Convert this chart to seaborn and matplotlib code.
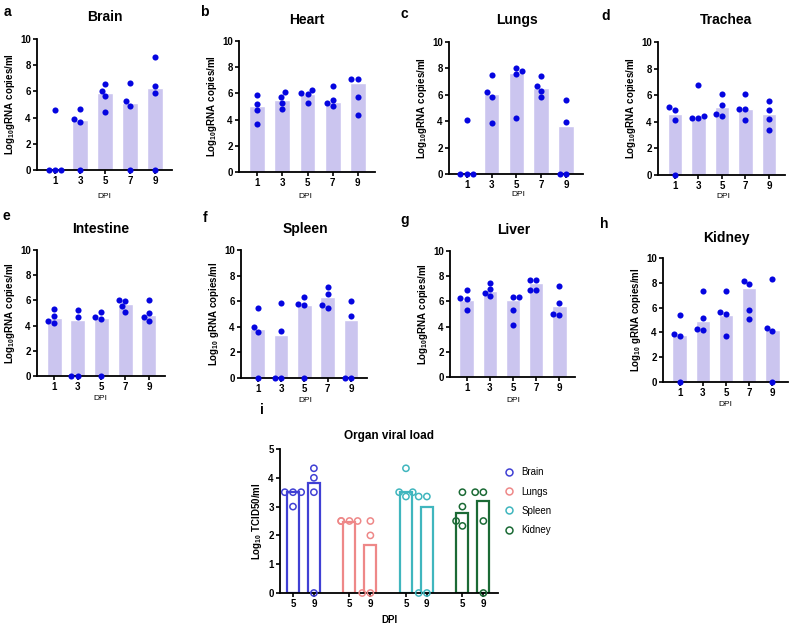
import numpy as np
import pandas as pd
import seaborn as sns
import matplotlib.pyplot as plt
from matplotlib.lines import Line2D

# ---- data ----
dpi_labels = ['1', '3', '5', '7', '9']

brain_pts = [[0, 0, 0, 4.6], [3.9, 4.65, 3.7, 0], [6.05, 6.6, 5.65, 4.4], [5.25, 6.65, 4.9, 0], [8.6, 6.45, 5.9, 0]]
brain_bar = [0, 3.83, 5.86, 5.1, 6.24]
heart_pts = [[5.85, 5.2, 4.7, 3.7], [5.75, 5.3, 4.8, 6.1], [6.28, 5.98, 6.03, 5.23], [6.57, 5.52, 5.28, 5.05], [7.12, 7.12, 5.75, 4.35]]
heart_bar = [5.05, 5.53, 5.99, 5.38, 6.8]
lungs_pts = [[0, 0, 0, 4.1], [7.52, 5.86, 6.2, 3.85], [8.05, 7.57, 7.77, 4.22], [7.4, 6.68, 6.32, 5.83], [5.64, 3.91, 0, 0]]
lungs_bar = [0, 6.06, 7.67, 6.54, 3.61]
trachea_pts = [[4.9, 5.1, 4.12, 0], [6.76, 4.25, 4.45, 4.3], [6.08, 5.3, 4.45, 4.55], [6.1, 4.96, 4.97, 4.17], [5.6, 4.87, 4.2, 3.37]]
trachea_bar = [4.62, 4.32, 5.08, 4.95, 4.62]
intestine_pts = [[5.34, 4.76, 4.39, 4.23], [5.21, 4.71, 0, 0], [4.52, 4.66, 5.05, 0], [5.1, 5.95, 6.0, 5.53], [4.39, 5.0, 6.0, 4.71]]
intestine_bar = [4.58, 4.44, 4.6, 5.71, 4.87]
spleen_pts = [[5.48, 4.02, 3.63, 0], [5.87, 3.68, 0, 0], [5.82, 6.29, 5.67, 0], [7.08, 6.58, 5.48, 5.69], [6.03, 4.86, 0, 0]]
spleen_bar = [3.86, 3.34, 5.74, 6.32, 4.57]
liver_pts = [[6.29, 6.89, 6.16, 5.32], [6.39, 7.45, 6.95, 6.68], [6.37, 6.37, 5.32, 4.16], [7.71, 6.87, 7.71, 6.92], [7.26, 5.87, 4.95, 5.0]]
liver_bar = [6.13, 6.82, 6.1, 7.45, 5.63]
kidney_pts = [[3.89, 5.42, 3.75, 0], [4.16, 7.37, 5.2, 4.29], [5.5, 7.37, 5.68, 3.7], [8.12, 7.88, 5.82, 5.12], [8.28, 4.1, 4.34, 0]]
kidney_bar = [3.83, 4.93, 5.39, 7.56, 4.21]

organs = ['Brain', 'Lungs', 'Spleen', 'Kidney']
tcid_dpi = ['5', '9']
tcid_pts = {
    'Brain': [[3.5, 3.5, 3.5, 3.0], [4.33, 4.0, 3.5, 0]],
    'Lungs': [[2.5, 2.5, 2.5, 2.5], [2.5, 2.0, 0, 0]],
    'Spleen': [[4.33, 3.35, 3.5, 3.5], [3.35, 3.35, 0, 0]],
    'Kidney': [[3.5, 3.0, 2.33, 2.5], [3.5, 3.5, 2.5, 0]],
}
tcid_bar = {
    'Brain': [3.5, 3.81],
    'Lungs': [2.48, 1.67],
    'Spleen': [3.5, 3.0],
    'Kidney': [2.79, 3.21],
}

# ---- style ----
sns.set_theme(style='ticks')
plt.rcParams['font.family'] = ['Liberation Sans', 'DejaVu Sans']
plt.rcParams['mathtext.fontset'] = 'custom'
plt.rcParams['mathtext.rm'] = 'Liberation Sans'
plt.rcParams['mathtext.bf'] = 'Liberation Sans:bold'
plt.rcParams['text.color'] = 'black'
plt.rcParams['axes.labelcolor'] = 'black'

W, H = 800, 632
fig = plt.figure(figsize=(8, 6.32), dpi=100)


def px_axes(x0, x1, yt, yb):
    return fig.add_axes([x0 / W, 1 - yb / H, (x1 - x0) / W, (yb - yt) / H])


def ftext(x, y, s, **kw):
    fig.text(x / W, 1 - y / H, s, ha='center', va='center', **kw)


def style_axes(ax):
    sns.despine(ax=ax)
    for s in ['left', 'bottom']:
        ax.spines[s].set_linewidth(1.3)
        ax.spines[s].set_color('black')
    ax.tick_params(length=3, width=1.2, labelsize=7, pad=1.5, colors='black')
    for lab in ax.get_xticklabels() + ax.get_yticklabels():
        lab.set_fontweight('bold')


ylab_a = r'Log$_{\mathbf{10}}$gRNA copies/ml'
ylab_b = r'Log$_{\mathbf{10}}$ gRNA copies/ml'

panels = [
    ('a', 'Brain', ylab_a, brain_pts, brain_bar, (37, 172, 39, 170), (7, 12), (105, 17), (104, 196)),
    ('b', 'Heart', ylab_a, heart_pts, heart_bar, (239, 375, 41, 172), (204, 12), (307, 20), (305, 197)),
    ('c', 'Lungs', ylab_a, lungs_pts, lungs_bar, (449, 583, 42, 174), (404, 14), (517, 20), (518, 194)),
    ('d', 'Trachea', ylab_a, trachea_pts, trachea_bar, (658, 785, 42, 175), (606, 16), (726, 20), (723, 196)),
    ('e', 'Intestine', ylab_a, intestine_pts, intestine_bar, (37, 165, 250, 376), (6, 216), (101, 229), (100, 399)),
    ('f', 'Spleen', ylab_b, spleen_pts, spleen_bar, (241, 367, 250, 378), (205, 218), (305, 229), (305, 400)),
    ('g', 'Liver', ylab_a, liver_pts, liver_bar, (450, 575, 251, 377), (405, 220), (514, 230), (513, 400)),
    ('h', 'Kidney', ylab_b, kidney_pts, kidney_bar, (663, 788, 258, 382), (604, 224), (726, 238), (725, 404)),
]

bar_color = '#cbc5ef'
dot_color = '#0505e0'

for letter, title, ylab, pts, bars, rect, lpos, tpos, dpos in panels:
    ax = px_axes(*rect)
    df = pd.DataFrame({
        'dpi': np.repeat(dpi_labels, [len(p) for p in pts]),
        'val': np.concatenate(pts),
    })
    sns.barplot(x=dpi_labels, y=bars, order=dpi_labels, color=bar_color, saturation=1,
                width=0.63, errorbar=None, ax=ax)
    sns.swarmplot(data=df, x='dpi', y='val', order=dpi_labels, color=dot_color,
                  size=4.4, linewidth=0, ax=ax)
    for c in ax.collections:
        c.set_clip_on(False)
    ax.set_ylim(0, 10)
    ax.set_xlim(-0.72, 4.68)
    ax.set_yticks(range(0, 11, 2))
    ax.set_xlabel('')
    ax.set_ylabel(ylab, fontsize=7, fontweight='bold', labelpad=2)
    style_axes(ax)
    ftext(*lpos, letter, fontsize=10, fontweight='bold')
    ftext(*tpos, title, fontsize=10, fontweight='bold')
    ftext(*dpos, 'DPI', fontsize=6)

# ---- panel i ----
pal = {'Brain': '#4040d4', 'Lungs': '#ee8888', 'Spleen': '#40b6be', 'Kidney': '#1b6a35'}
rows_b, rows_p = [], []
for gi, org in enumerate(organs):
    for di, d in enumerate(tcid_dpi):
        pos = gi * 2.7 + di
        rows_b.append({'pos': pos, 'organ': org, 'val': tcid_bar[org][di]})
        for v in tcid_pts[org][di]:
            rows_p.append({'pos': pos, 'organ': org, 'val': v})
bdf = pd.DataFrame(rows_b)
pdf = pd.DataFrame(rows_p)

ax = px_axes(280, 498, 449, 593)
sns.barplot(data=bdf, x='pos', y='val', hue='organ', hue_order=organs, palette=pal,
            native_scale=True, dodge=False, fill=False, linewidth=1.6, width=0.57,
            errorbar=None, legend=False, ax=ax)
sns.swarmplot(data=pdf, x='pos', y='val', hue='organ', hue_order=organs, palette=pal,
              native_scale=True, dodge=False, size=4.5, legend=False, ax=ax)
for c in ax.collections:
    fc = c.get_facecolors()
    c.set_edgecolors(fc)
    c.set_facecolors('none')
    c.set_linewidth(1.1)
    c.set_clip_on(False)
ax.set_ylim(0, 5)
ax.set_xlim(-0.62, 9.8)
ax.set_xticks(bdf['pos'])
ax.set_xticklabels(tcid_dpi * len(organs))
ax.set_yticks(range(0, 6))
ax.set_xlabel('')
ax.set_ylabel(r'Log$_{\mathbf{10}}$ TCID50/ml', fontsize=7, fontweight='bold', labelpad=3)
style_axes(ax)
handles = [Line2D([], [], ls='', marker='o', markerfacecolor='none', markeredgecolor=pal[o],
                  markersize=5, markeredgewidth=1.1) for o in organs]
ax.legend(handles, organs, loc='upper left', bbox_to_anchor=(1.01, 0.9), frameon=False,
          fontsize=7, handlelength=1, handletextpad=0.8, labelspacing=0.95, borderaxespad=0)
ftext(262, 410, 'i', fontsize=10, fontweight='bold')
ftext(389, 436, 'Organ viral load', fontsize=8.5, fontweight='bold')
ftext(389, 620, 'DPI', fontsize=7, fontweight='bold')

fig.savefig('out.png', dpi=100)
